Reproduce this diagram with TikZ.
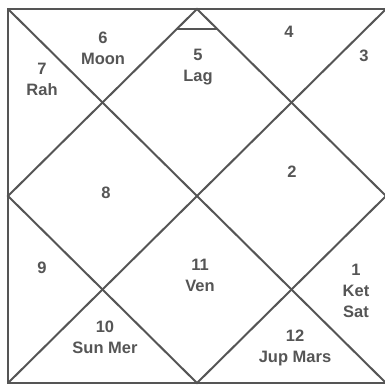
\documentclass[tikz,border=0pt]{standalone}
\usepackage{fontspec}
\setmainfont{Liberation Sans}
\definecolor{ink}{HTML}{555555}
\begin{document}
\begin{tikzpicture}[x=1pt,y=-1pt,
  ln/.style={draw=ink,line width=2pt},
  bd/.style={draw=ink,line width=2.6pt},
  lbl/.style={text=ink,font=\fontsize{16.5}{21}\selectfont\bfseries,align=center,inner sep=0pt}]
\useasboundingbox (0,0) rectangle (385,384);
\coordinate (tl) at (8,9);
\coordinate (tr) at (386,9);
\coordinate (bl) at (8,383);
\coordinate (br) at (386,383);
\coordinate (tm) at (197,9);
\coordinate (bm) at (197,383);
\coordinate (lm) at (8,196);
\coordinate (rm) at (386,196);
\coordinate (ta) at (177,29);
\coordinate (tb) at (217,29);
\draw[bd] (tl) rectangle (br);
\draw[ln] (tl) -- (br);
\draw[ln] (tr) -- (bl);
\draw[ln] (tm) -- (rm) -- (bm) -- (lm) -- cycle;
\draw[ln] (ta) -- (tb);
\node[lbl] (h6) at (103,48) {6\\Moon};
\node[lbl] (h7) at (42,79) {7\\Rah};
\node[lbl] (h5) at (198,67) {5\\Lag};
\node[lbl] (h4) at (289,32) {4};
\node[lbl] (h3) at (364,56) {3};
\node[lbl] (h2) at (292,172) {2};
\node[lbl] (h8) at (106,193) {8};
\node[lbl] (h9) at (42,268) {9};
\node[lbl] (h10) at (105,337) {10\\Sun Mer};
\node[lbl] (h11) at (200,275) {11\\Ven};
\node[lbl] (h1) at (356,291) {1\\Ket\\Sat};
\node[lbl] (h12) at (295,348) {12\\Jup Mars};
\end{tikzpicture}
\end{document}
